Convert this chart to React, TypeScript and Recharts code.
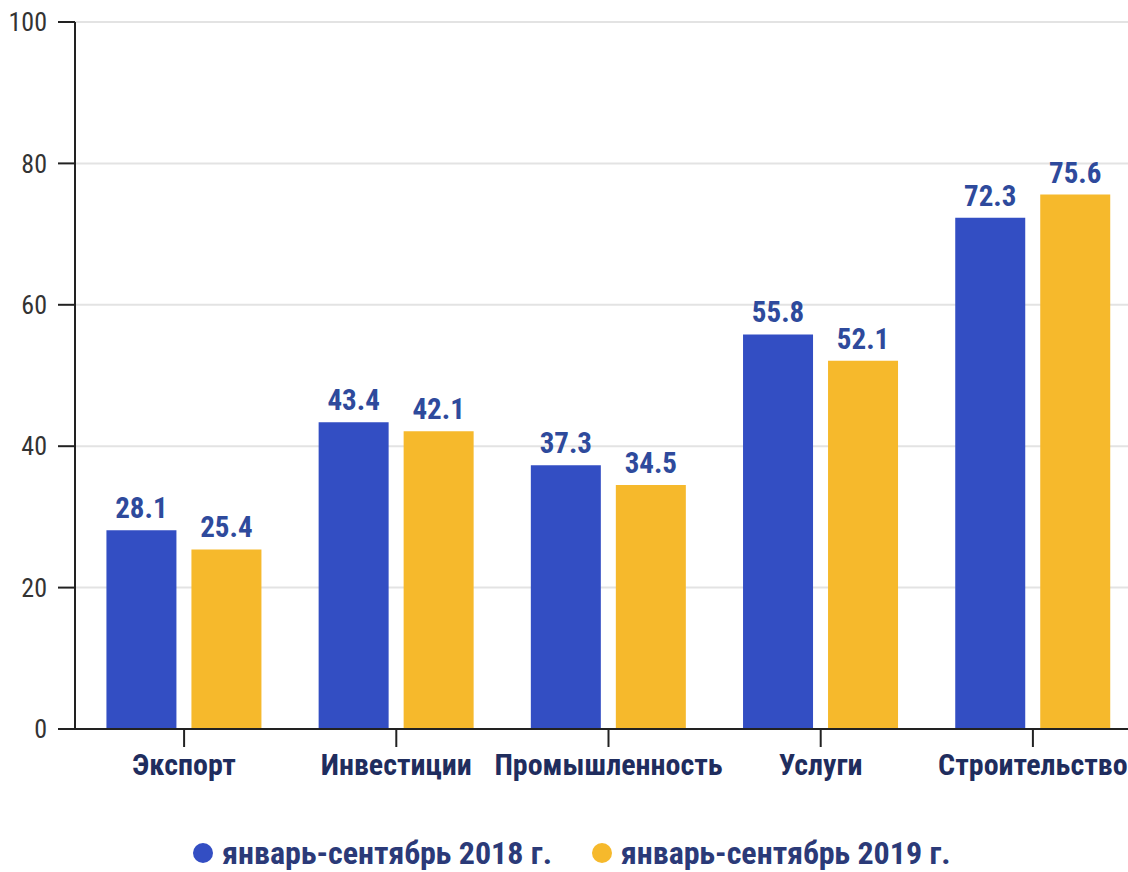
import React from 'react';
import { BarChart, Bar, XAxis, YAxis, CartesianGrid, Legend, LabelList } from 'recharts';

const categories = ['Экспорт', 'Инвестиции', 'Промышленность', 'Услуги', 'Строительство'];
const series2018 = [28.1, 43.4, 37.3, 55.8, 72.3];
const series2019 = [25.4, 42.1, 34.5, 52.1, 75.6];
const yTicks = [0, 20, 40, 60, 80, 100];
const seriesNames = ['январь-сентябрь 2018 г.', 'январь-сентябрь 2019 г.'];

const data = categories.map((c, i) => ({ name: c, a: series2018[i], b: series2019[i] }));

const FONT = "'Roboto Condensed', 'Liberation Sans Narrow', 'DejaVu Sans Condensed', Roboto, sans-serif";
const BLUE = '#334EC3';
const YELLOW = '#F6B92C';

const LegendContent = () => (
  <div style={{ display: 'flex', justifyContent: 'center', alignItems: 'center', fontFamily: FONT, fontWeight: 700, fontSize: 32, color: '#2B3A78', height: 38 }}>
    {seriesNames.map((n, i) => (
      <div key={n} style={{ display: 'flex', alignItems: 'center', marginRight: i === 0 ? 40 : 0 }}>
        <span style={{ width: 20, height: 20, borderRadius: 10, background: i === 0 ? BLUE : YELLOW, display: 'inline-block', marginRight: 9 }} />
        <span style={{ lineHeight: '38px', whiteSpace: 'nowrap' }}>{n}</span>
      </div>
    ))}
  </div>
);

const labelStyle = { fill: '#2E4A9C', fontSize: 29, fontWeight: 700, fontFamily: FONT };

export default function App() {
  return (
    <div style={{ position: 'absolute', left: 0, top: 0, width: 1140, height: 872, background: '#fff' }}>
      <style>{'html,body{overflow:hidden;margin:0}'}</style>
      <BarChart width={1140} height={872} data={data} margin={{ top: 22, right: 1, left: 0, bottom: 45 }} barCategoryGap="13.4%" barGap={15}>
        <CartesianGrid vertical={false} stroke="#e3e3e3" strokeWidth={2} />
        <XAxis dataKey="name" height={60} padding={{ left: 3, right: 0 }} tickSize={18} tickMargin={7}
          axisLine={{ stroke: '#222', strokeWidth: 2 }} tickLine={{ stroke: '#222', strokeWidth: 2 }}
          tick={{ fill: '#1F2D5E', fontSize: 30, fontWeight: 700, fontFamily: FONT }} interval={0} />
        <YAxis width={75} domain={[0, 100]} ticks={yTicks} tickSize={17} tickMargin={11}
          axisLine={{ stroke: '#222', strokeWidth: 2 }} tickLine={{ stroke: '#222', strokeWidth: 2 }}
          tick={{ fill: '#333', fontSize: 26, fontFamily: FONT }} />
        <Legend verticalAlign="bottom" content={<LegendContent />} wrapperStyle={{ top: 834, bottom: 'auto', height: 38, width: 1128, left: 8 }} />
        <Bar dataKey="a" name={seriesNames[0]} fill={BLUE} isAnimationActive={false}>
          <LabelList dataKey="a" position="top" offset={12} style={labelStyle} />
        </Bar>
        <Bar dataKey="b" name={seriesNames[1]} fill={YELLOW} isAnimationActive={false}>
          <LabelList dataKey="b" position="top" offset={12} style={labelStyle} />
        </Bar>
      </BarChart>
    </div>
  );
}
